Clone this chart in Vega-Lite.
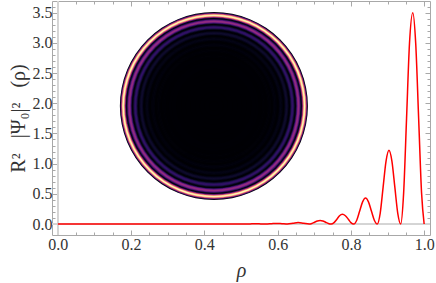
{
  "$schema": "https://vega.github.io/schema/vega-lite/v6.json",
  "width": 378,
  "height": 234,
  "autosize": "none",
  "padding": {"left": 52, "top": 1, "right": 6, "bottom": 48},
  "background": "white",
  "config": {
    "view": {"stroke": "#a8a8a8", "strokeWidth": 1}
  },
  "data": {
    "values": [
      {"rho": 0.0, "v": 0}, {"rho": 0.05, "v": 0}, {"rho": 0.1, "v": 0}, {"rho": 0.15, "v": 0},
      {"rho": 0.2, "v": 0}, {"rho": 0.25, "v": 0}, {"rho": 0.3, "v": 0}, {"rho": 0.35, "v": 0},
      {"rho": 0.4, "v": 0.0005}, {"rho": 0.45, "v": 0.001}, {"rho": 0.48, "v": 0.0015},
      {"rho": 0.51, "v": 0}, {"rho": 0.525, "v": 0.002}, {"rho": 0.539, "v": 0.004}, {"rho": 0.554, "v": 0.002},
      {"rho": 0.568, "v": 0}, {"rho": 0.583, "v": 0.005}, {"rho": 0.597, "v": 0.01}, {"rho": 0.612, "v": 0.005},
      {"rho": 0.627, "v": 0}, {"rho": 0.642, "v": 0.0125}, {"rho": 0.656, "v": 0.025}, {"rho": 0.671, "v": 0.0125},
      {"rho": 0.686, "v": 0}, {"rho": 0.6935, "v": 0.009}, {"rho": 0.701, "v": 0.03}, {"rho": 0.7085, "v": 0.051},
      {"rho": 0.716, "v": 0.06}, {"rho": 0.7235, "v": 0.051}, {"rho": 0.731, "v": 0.03}, {"rho": 0.7385, "v": 0.009},
      {"rho": 0.746, "v": 0}, {"rho": 0.754, "v": 0.023}, {"rho": 0.762, "v": 0.08}, {"rho": 0.769, "v": 0.137},
      {"rho": 0.777, "v": 0.16}, {"rho": 0.785, "v": 0.137}, {"rho": 0.793, "v": 0.08}, {"rho": 0.8, "v": 0.023},
      {"rho": 0.808, "v": 0}, {"rho": 0.816, "v": 0.063}, {"rho": 0.824, "v": 0.215}, {"rho": 0.832, "v": 0.367},
      {"rho": 0.84, "v": 0.43}, {"rho": 0.848, "v": 0.367}, {"rho": 0.856, "v": 0.215}, {"rho": 0.864, "v": 0.063},
      {"rho": 0.872, "v": 0}, {"rho": 0.88, "v": 0.178}, {"rho": 0.888, "v": 0.61}, {"rho": 0.896, "v": 1.042},
      {"rho": 0.904, "v": 1.22}, {"rho": 0.912, "v": 1.042}, {"rho": 0.92, "v": 0.61}, {"rho": 0.928, "v": 0.178},
      {"rho": 0.936, "v": 0}, {"rho": 0.944, "v": 0.511}, {"rho": 0.952, "v": 1.75}, {"rho": 0.96, "v": 2.989},
      {"rho": 0.969, "v": 3.5}, {"rho": 0.977, "v": 2.989}, {"rho": 0.985, "v": 1.75}, {"rho": 0.993, "v": 0.511},
      {"rho": 1.0, "v": 0}
    ]
  },
  "resolve": {"axis": {"x": "independent", "y": "independent"}},
  "layer": [
    {
      "mark": {"type": "arc", "theta": 0, "theta2": 6.2832},
      "encoding": {
        "x": {"datum": 0.426, "type": "quantitative", "scale": {"domain": [-0.016, 1.016], "nice": false, "zero": false}, "axis": null},
        "y": {"datum": 1.955, "type": "quantitative", "scale": {"domain": [-0.182, 3.694], "nice": false, "zero": false}, "axis": null},
        "radius": {"field": "rho", "type": "quantitative", "stack": null, "scale": {"type": "linear", "domain": [0, 1], "range": [0, 94], "zero": true}},
        "color": {"field": "v", "type": "quantitative", "scale": {"type": "pow", "exponent": 0.8, "scheme": "magma", "domain": [0, 3.5]}, "legend": null},
        "order": {"field": "rho", "sort": "descending"}
      }
    },
    {
      "mark": {"type": "rule", "color": "#d4d4d4", "strokeWidth": 1},
      "encoding": {
        "x": {"datum": 0, "type": "quantitative",
          "axis": {"orient": "top", "labels": false, "title": null, "domain": false, "grid": false, "tickColor": "#a8a8a8",
            "values": [0, 0.05, 0.1, 0.15, 0.2, 0.25, 0.3, 0.35, 0.4, 0.45, 0.5, 0.55, 0.6, 0.65, 0.7, 0.75, 0.8, 0.85, 0.9, 0.95, 1.0],
            "tickSize": {"condition": {"test": "abs(datum.value*5 - round(datum.value*5)) < 0.001", "value": -5}, "value": -3}}}
      }
    },
    {
      "mark": {"type": "rule", "color": "#d4d4d4", "strokeWidth": 1},
      "encoding": {
        "y": {"datum": 0, "type": "quantitative",
          "axis": {"orient": "right", "labels": false, "title": null, "domain": false, "grid": false, "tickColor": "#a8a8a8",
            "values": [0, 0.1, 0.2, 0.3, 0.4, 0.5, 0.6, 0.7, 0.8, 0.9, 1.0, 1.1, 1.2, 1.3, 1.4, 1.5, 1.6, 1.7, 1.8, 1.9, 2.0, 2.1, 2.2, 2.3, 2.4, 2.5, 2.6, 2.7, 2.8, 2.9, 3.0, 3.1, 3.2, 3.3, 3.4, 3.5, 3.6],
            "tickSize": {"condition": {"test": "abs(datum.value*2 - round(datum.value*2)) < 0.001", "value": -5}, "value": -3}}}
      }
    },
    {
      "mark": {"type": "line", "color": "#ff0000", "strokeWidth": 1.5, "interpolate": "monotone"},
      "encoding": {
        "x": {"field": "rho", "type": "quantitative",
          "axis": {"orient": "bottom", "title": "ρ", "domain": false, "grid": false, "tickColor": "#a8a8a8",
            "labelFont": "Liberation Serif, Times New Roman, serif", "labelFontSize": 16, "labelColor": "#333333",
            "titleFont": "Liberation Serif, Times New Roman, serif", "titleFontSize": 20, "titleFontStyle": "italic", "titleFontWeight": "normal", "titleColor": "#333333", "titlePadding": 8,
            "values": [0, 0.05, 0.1, 0.15, 0.2, 0.25, 0.3, 0.35, 0.4, 0.45, 0.5, 0.55, 0.6, 0.65, 0.7, 0.75, 0.8, 0.85, 0.9, 0.95, 1.0],
            "labelExpr": "abs(datum.value*5 - round(datum.value*5)) < 0.001 ? format(datum.value, '.1f') : ''",
            "labelPadding": 6,
            "tickSize": {"condition": {"test": "abs(datum.value*5 - round(datum.value*5)) < 0.001", "value": -5}, "value": -3}}},
        "y": {"field": "v", "type": "quantitative",
          "axis": {"orient": "left", "title": "R² \u2002|Ψ₀|² \u2002(ρ)", "domain": false, "grid": false, "tickColor": "#a8a8a8",
            "labelFont": "Liberation Serif, Times New Roman, serif", "labelFontSize": 16, "labelColor": "#333333",
            "titleFont": "Liberation Serif, Times New Roman, serif", "titleFontSize": 20, "titleFontWeight": "normal", "titleColor": "#333333", "titlePadding": 4,
            "values": [0, 0.1, 0.2, 0.3, 0.4, 0.5, 0.6, 0.7, 0.8, 0.9, 1.0, 1.1, 1.2, 1.3, 1.4, 1.5, 1.6, 1.7, 1.8, 1.9, 2.0, 2.1, 2.2, 2.3, 2.4, 2.5, 2.6, 2.7, 2.8, 2.9, 3.0, 3.1, 3.2, 3.3, 3.4, 3.5, 3.6],
            "labelExpr": "abs(datum.value*2 - round(datum.value*2)) < 0.001 ? format(datum.value, '.1f') : ''",
            "labelPadding": 5,
            "tickSize": {"condition": {"test": "abs(datum.value*2 - round(datum.value*2)) < 0.001", "value": -5}, "value": -3}}}
      }
    }
  ]
}
